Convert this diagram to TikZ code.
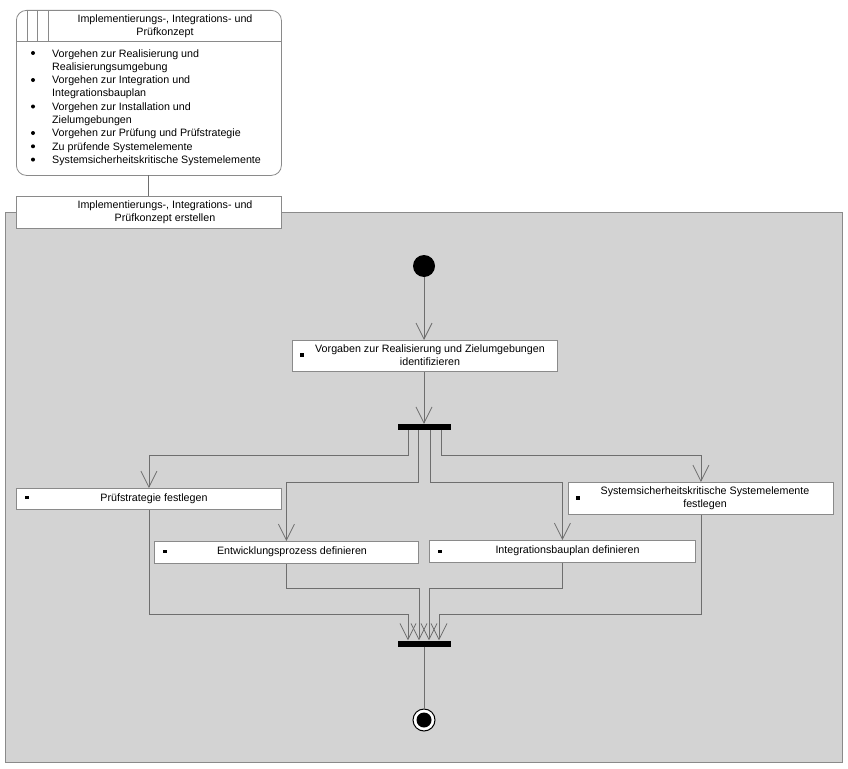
\documentclass[tikz,border=0pt]{standalone}
\usepackage{fontspec}
\setmainfont{Liberation Sans}
\usetikzlibrary{arrows.meta}
\definecolor{areagray}{HTML}{D3D3D3}
\definecolor{linegray}{HTML}{6E6E6E}
\definecolor{boxgray}{HTML}{8A8A8A}
\begin{document}
\begin{tikzpicture}[x=1pt,y=-1pt,
  every node/.style={font=\fontsize{10.7}{13.3}\selectfont},
  actbox/.style={draw=boxgray, fill=white, line width=0.8pt, anchor=north west, inner sep=0pt},
  btxt/.style={align=center, inner sep=0pt},
  sq/.style={fill=black, minimum size=3.6pt, inner sep=0pt},
  dot/.style={circle, fill=black, minimum size=4pt, inner sep=0pt},
  ltxt/.style={anchor=base west, inner sep=0pt},
  flow/.style={draw=linegray, line width=0.8pt},
  arr/.style={flow, -{Straight Barb[length=16pt,width=16pt,line width=0.8pt]}},
  bar/.style={fill=black, inner sep=0pt, minimum width=53pt, minimum height=6pt}
]
\useasboundingbox (0,0) rectangle (848,768);
% activity area
\fill[areagray, draw=boxgray, line width=0.8pt] (5,212) rectangle (842,762);
% object node
\node[draw=boxgray, fill=white, rounded corners=10pt, line width=0.8pt, anchor=north west,
      minimum width=265pt, minimum height=165pt, inner sep=0pt] (obj) at (16,10) {};
\draw[boxgray, line width=0.8pt] (16,41.5) -- (281,41.5);
\draw[boxgray, line width=0.8pt] (27,10) -- (27,41.5) (37,10) -- (37,41.5) (48,10) -- (48,41.5);
\node[btxt] (objtitle) at (165,26.5) {Implementierungs-, Integrations- und\\Prüfkonzept};
\node[ltxt] (l1) at (52,57) {Vorgehen zur Realisierung und};
\node[ltxt] (l2) at (52,70.3) {Realisierungsumgebung};
\node[ltxt] (l3) at (52,83.6) {Vorgehen zur Integration und};
\node[ltxt] (l4) at (52,96.9) {Integrationsbauplan};
\node[ltxt] (l5) at (52,110.2) {Vorgehen zur Installation und};
\node[ltxt] (l6) at (52,123.5) {Zielumgebungen};
\node[ltxt] (l7) at (52,136.8) {Vorgehen zur Prüfung und Prüfstrategie};
\node[ltxt] (l8) at (52,150.1) {Zu prüfende Systemelemente};
\node[ltxt] (l9) at (52,163.4) {Systemsicherheitskritische Systemelemente};
\node[dot] (d1) at (33,53) {};
\node[dot] (d2) at (33,80) {};
\node[dot] (d3) at (33,106.5) {};
\node[dot] (d4) at (33,133) {};
\node[dot] (d5) at (33,146.3) {};
\node[dot] (d6) at (33,159.6) {};
% activity label
\node[actbox, minimum width=265pt, minimum height=32pt] (actlabel) at (16,196) {};
\node[btxt] (actlabeltxt) at (165,212.5) {Implementierungs-, Integrations- und\\Prüfkonzept erstellen};
\draw[flow] (148,175) -- (148,196);
% start
\node[circle, fill=black, minimum size=22pt, inner sep=0pt] (start) at (424,266) {};
% first action
\node[actbox, minimum width=265pt, minimum height=31pt] (a1) at (292,340) {};
\node[btxt] (a1t) at (430,355.5) {Vorgaben zur Realisierung und Zielumgebungen\\identifizieren};
\node[sq] (a1b) at (302,355) {};
% fork
\node[bar] (fork) at (424.5,427) {};
% parallel actions
\node[actbox, minimum width=265pt, minimum height=21pt] (pruef) at (16,488) {};
\node[btxt] (pruefT) at (154,498.5) {Prüfstrategie festlegen};
\node[sq] (pruefB) at (27,497.5) {};
\node[actbox, minimum width=264pt, minimum height=22pt] (entw) at (154,541) {};
\node[btxt] (entwT) at (292,552) {Entwicklungsprozess definieren};
\node[sq] (entwB) at (165,551.5) {};
\node[actbox, minimum width=266pt, minimum height=22pt] (integ) at (429,540) {};
\node[btxt] (integT) at (567.5,551) {Integrationsbauplan definieren};
\node[sq] (integB) at (440,551.5) {};
\node[actbox, minimum width=265pt, minimum height=32pt] (syst) at (568,482) {};
\node[btxt] (systT) at (705,498.5) {Systemsicherheitskritische Systemelemente\\festlegen};
\node[sq] (systB) at (578,498) {};
% join
\node[bar] (join) at (424.5,643.5) {};
% final
\node[circle, draw=black, line width=1pt, fill=white, minimum size=22pt, inner sep=0pt] (final) at (424,720) {};
\node[circle, fill=black, minimum size=15pt, inner sep=0pt] (finalin) at (final.center) {};
% flows
\draw[arr] (start.south) -- (a1.north -| start.south);
\draw[arr] (a1.south -| start.south) -- (fork.north -| start.south);
\draw[arr] ([xshift=-16.5pt]fork.south) -- ++(0,25) -| (pruef.north);
\draw[arr] ([xshift=-6.5pt]fork.south) -- ++(0,52) -| (entw.north);
\draw[arr] ([xshift=5.5pt]fork.south) -- ++(0,52) -| (integ.north);
\draw[arr] ([xshift=16.5pt]fork.south) -- ++(0,25) -| (syst.north);
\draw[arr] (pruef.south) -- ++(0,105) -| ([xshift=-16.5pt]join.north);
\draw[arr] (entw.south) -- ++(0,25) -| ([xshift=-5.5pt]join.north);
\draw[arr] (integ.south) -- ++(0,26) -| ([xshift=4.5pt]join.north);
\draw[arr] (syst.south) -- ++(0,100) -| ([xshift=14.5pt]join.north);
\draw[flow] (join.south -| final.north) -- (final.north);
\end{tikzpicture}
\end{document}
